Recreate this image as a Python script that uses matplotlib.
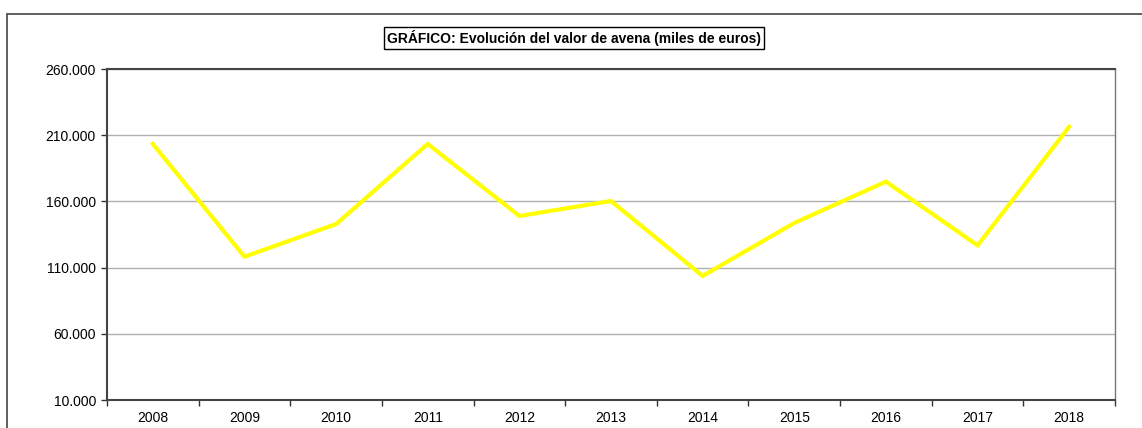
import matplotlib
matplotlib.use("Agg")
import matplotlib.pyplot as plt
from matplotlib.patches import Rectangle
import numpy as np

plt.rcParams['font.family'] = ['Liberation Sans', 'DejaVu Sans']

years = ["2008", "2009", "2010", "2011", "2012", "2013", "2014", "2015", "2016", "2017", "2018"]
valor = [203400, 118200, 142900, 203400, 149000, 160300, 103700, 143700, 174900, 126800, 216400]
yticks = [10000, 60000, 110000, 160000, 210000, 260000]
titulo = "GRÁFICO: Evolución del valor de avena (miles de euros)"

fig = plt.figure(figsize=(11.42, 4.28), dpi=100)

# outer chart frame (runs off the right/bottom edge like the original)
fig.patches.append(Rectangle((7 / 1142, -0.1), 1.2, (428 - 14) / 428 + 0.1,
                             transform=fig.transFigure, fill=False,
                             edgecolor="#444444", linewidth=1.2))

ax = fig.add_axes([107 / 1142, 28 / 428, (1115 - 107) / 1142, (400 - 69) / 428])
x = np.arange(len(years))
ax.plot(x, valor, color="#FFFF00", linewidth=3, solid_joinstyle="miter", zorder=3)

ax.set_xlim(-0.5, len(years) - 0.5)
ax.set_ylim(10000, 260000)
ax.set_yticks(yticks)
ax.set_yticklabels([f"{v:,}".replace(",", ".") for v in yticks])
ax.set_xticks(x)
ax.set_xticklabels(years)
ax.set_xticks(np.arange(len(years) + 1) - 0.5, minor=True)
ax.tick_params(axis="x", which="major", length=0, pad=8, labelsize=10)
ax.tick_params(axis="x", which="minor", length=4, width=1, color="#333333", direction="out")
ax.tick_params(axis="y", length=4, width=1, color="#333333", direction="out", pad=4, labelsize=10)

ax.grid(axis="y", color="#b0b0b0", linewidth=1)
ax.set_axisbelow(True)
for s in ax.spines.values():
    s.set_color("#444444")
    s.set_linewidth(1.5)
ax.spines["right"].set_color("#777777")
ax.spines["right"].set_linewidth(1)

fig.text(574 / 1142, 1 - 38 / 428, titulo, ha="center", va="center",
         fontsize=10, fontweight="bold",
         bbox=dict(boxstyle="square,pad=0.2", facecolor="white", edgecolor="black", linewidth=1))

fig.savefig("out.png", dpi=100)
